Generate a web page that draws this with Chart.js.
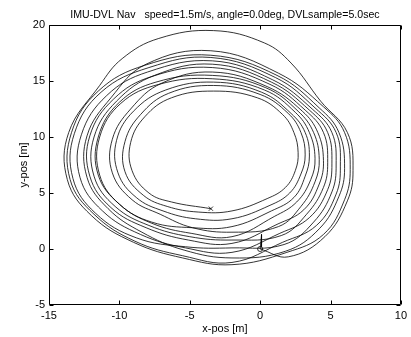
<!DOCTYPE html>
<html><head><meta charset="utf-8">
<script src="https://cdn.jsdelivr.net/npm/chart.js@4"></script>
<style>html,body{margin:0;padding:0;background:#fff;}#wrap{width:411px;height:337px;}</style>
</head><body><div id="wrap"><canvas id="c" width="411" height="337"></canvas></div>
<script>
const titleText = 'IMU-DVL Nav   speed=1.5m/s, angle=0.0deg, DVLsample=5.0sec';
const xLabel = 'x-pos [m]';
const yLabel = 'y-pos [m]';
const xTicks = [-15, -10, -5, 0, 5, 10];
const yTicks = [-5, 0, 5, 10, 15, 20];
const startPoint = [0.0, 0.0];
const startSpike = [[0.0, 0.0], [0.1, 1.3], [0.1, 0.2]];
const endPoint = [-3.5, 3.6];

const loop1 = [[2.0,-0.7],[4.6,1.1],[6.2,4.3],[6.6,7.0],[6.2,10.4],[4.3,13.2],[2.2,16.6],[0.3,18.4],[-3.3,19.5],[-7.2,18.8],[-9.8,17.0],[-11.4,14.6],[-13.6,10.4],[-13.7,6.2],[-12.0,3.0],[-9.0,0.6],[-5.5,-0.8],[-2.0,-1.4]];
const loop2 = [[1.9,-0.3],[4.5,1.3],[6.0,4.4],[6.4,7.1],[6.0,10.4],[4.5,12.7],[1.3,15.7],[-3.5,17.7],[-8.1,16.5],[-10.6,13.5],[-12.3,10.1],[-12.3,6.4],[-10.8,3.6],[-8.4,1.5],[-5.4,-0.1],[-2.0,-0.8]];
const loop3 = [[1.8,-0.2],[4.2,1.8],[5.6,4.7],[6.0,7.2],[5.6,10.4],[4.2,12.6],[1.2,15.5],[-3.5,17.3],[-8.2,16.4],[-11.5,14.1],[-13.4,10.4],[-13.5,6.2],[-11.8,3.1],[-8.9,0.7],[-5.5,-0.6],[-2.0,-1.2]];
const loop4 = [[1.6,0.6],[4.0,2.1],[5.4,4.9],[5.7,7.4],[5.4,10.4],[3.9,12.6],[1.1,15.3],[-3.5,17.1],[-7.9,16.2],[-11.3,14.0],[-13.2,10.3],[-13.3,6.3],[-11.7,3.2],[-8.8,1.0],[-5.3,0.2],[-2.0,0.1]];
const loop5 = [[1.7,0.4],[3.8,2.4],[5.1,5.1],[5.4,7.5],[5.1,10.4],[3.7,12.5],[0.9,15.1],[-3.4,16.8],[-8.0,15.8],[-10.9,13.7],[-12.7,10.2],[-12.8,6.4],[-11.2,3.4],[-8.5,1.3],[-5.3,0.1],[-2.0,-0.3]];
const loop6 = [[1.4,1.4],[3.5,2.8],[4.8,5.3],[5.1,7.6],[4.8,10.4],[3.5,12.4],[0.8,14.9],[-3.4,16.5],[-7.5,15.5],[-10.2,13.2],[-11.8,10.0],[-11.8,6.5],[-10.3,3.8],[-7.9,2.1],[-5.0,1.1],[-2.0,0.8]];
const loop7 = [[1.5,1.2],[3.3,3.1],[4.5,5.5],[4.8,7.7],[4.5,10.4],[3.2,12.4],[0.7,14.7],[-3.4,16.2],[-7.7,15.4],[-10.4,13.4],[-12.1,10.1],[-12.1,6.5],[-10.6,3.7],[-8.1,1.9],[-5.1,0.8],[-2.0,0.5]];
const loop8 = [[1.2,2.2],[3.1,3.5],[4.2,5.8],[4.5,7.9],[4.1,10.4],[3.0,12.3],[0.5,14.5],[-3.4,15.8],[-7.0,14.8],[-9.2,12.5],[-10.5,9.8],[-10.5,6.8],[-9.1,4.4],[-7.1,3.1],[-4.8,1.9],[-2.0,1.5]];
const loop9 = [[1.3,2.0],[2.9,3.8],[3.9,6.0],[4.2,8.0],[3.8,10.4],[2.7,12.3],[0.4,14.4],[-3.4,15.5],[-7.4,14.9],[-10.0,13.1],[-11.5,10.0],[-11.5,6.6],[-10.0,4.0],[-7.7,2.3],[-4.9,1.4],[-2.0,1.1]];
const loop10 = [[1.0,2.9],[2.6,4.2],[3.6,6.2],[3.9,8.1],[3.5,10.4],[2.5,12.2],[0.3,14.2],[-3.4,15.2],[-7.2,14.7],[-9.9,13.0],[-11.4,10.0],[-11.4,6.6],[-10.0,4.0],[-7.7,2.4],[-4.8,1.9],[-2.0,2.0]];
const loop11 = [[0.8,3.4],[2.4,4.6],[3.2,6.5],[3.5,8.3],[3.2,10.4],[2.2,12.1],[0.1,14.0],[-3.3,14.9],[-6.7,14.2],[-9.0,12.3],[-10.2,9.7],[-10.1,6.8],[-8.8,4.6],[-6.9,3.4],[-4.6,2.7],[-2.0,2.7]];
const loop12 = [[0.7,3.9],[2.1,5.0],[2.9,6.7],[3.2,8.4],[2.9,10.4],[2.0,12.1],[0.0,13.8],[-3.3,14.6],[-6.5,13.9],[-8.5,12.0],[-9.6,9.6],[-9.6,6.9],[-8.3,4.8],[-6.6,3.8],[-4.4,3.3],[-2.0,3.4]];
const loop13 = [[0.5,4.5],[1.8,5.5],[2.5,7.0],[2.7,8.6],[2.4,10.4],[1.6,12.0],[-0.2,13.5],[-3.3,14.1],[-6.3,13.5],[-8.2,11.8],[-9.2,9.5],[-9.1,7.0],[-7.9,5.0],[-6.3,4.2]];

const loops = [loop1, loop2, loop3, loop4, loop5, loop6, loop7, loop8, loop9, loop10, loop11, loop12, loop13];
const toXY = arr => arr.map(([x, y]) => ({x, y}));
const path = toXY([startPoint].concat(...loops, [endPoint]));

const F = "'Liberation Sans', Arial, Helvetica, sans-serif";

const framePlugin = {
  id: 'frame',
  afterDatasetsDraw(chart) {
    const {ctx, chartArea: {left, right, top, bottom}, scales: {x, y}} = chart;
    ctx.save();
    ctx.strokeStyle = '#000';
    ctx.lineWidth = 1;
    ctx.beginPath();
    const L = Math.round(left) + 0.5, R = Math.round(right) - 0.5;
    const T = Math.round(top) + 0.5, B = Math.round(bottom) - 0.5;
    ctx.rect(L, T, R - L, B - T);
    const tl = 4;
    xTicks.forEach(v => {
      const px = Math.round(x.getPixelForValue(v)) + 0.5;
      ctx.moveTo(px, B); ctx.lineTo(px, B - tl);
      ctx.moveTo(px, T); ctx.lineTo(px, T + tl);
    });
    yTicks.forEach(v => {
      const py = Math.round(y.getPixelForValue(v)) + 0.5;
      ctx.moveTo(L, py); ctx.lineTo(L + tl, py);
      ctx.moveTo(R, py); ctx.lineTo(R - tl, py);
    });
    ctx.stroke();
    ctx.fillStyle = '#000';
    ctx.font = '10.6px ' + F;
    ctx.textAlign = 'center';
    ctx.textBaseline = 'middle';
    ctx.fillText(titleText, (left + right) / 2, 15);
    ctx.restore();
  }
};

new Chart(document.getElementById('c'), {
  type: 'line',
  data: {
    datasets: [
      {data: path, borderColor: '#000', borderWidth: 0.8, pointRadius: 0, tension: 0.4, fill: false},
      {data: toXY(startSpike), borderColor: '#000', borderWidth: 0.8, pointRadius: 0, tension: 0, fill: false},
      {data: toXY([startPoint]), showLine: false, pointStyle: 'circle', pointRadius: 2.5, borderColor: '#000', backgroundColor: 'rgba(0,0,0,0)', borderWidth: 0.8},
      {data: toXY([endPoint]), showLine: false, pointStyle: 'crossRot', pointRadius: 3, borderColor: '#000', borderWidth: 0.8}
    ]
  },
  options: {
    responsive: false,
    animation: false,
    devicePixelRatio: 1,
    layout: {padding: {left: 0, right: 8, top: 25, bottom: 0}},
    plugins: {
      legend: {display: false},
      tooltip: {enabled: false},
      title: {display: false}
    },
    scales: {
      x: {
        type: 'linear', min: xTicks[0], max: xTicks[xTicks.length - 1],
        afterBuildTicks: s => { s.ticks = xTicks.map(v => ({value: v})); },
        ticks: {color: '#000', font: {family: F, size: 11}, padding: 4, maxRotation: 0, autoSkip: false},
        grid: {display: false, drawTicks: false}, border: {display: false},
        title: {display: true, text: xLabel, color: '#000', font: {family: F, size: 11}, padding: {top: 0, bottom: 1.5}},
        afterFit: s => { s.height = 32; }
      },
      y: {
        type: 'linear', min: yTicks[0], max: yTicks[yTicks.length - 1],
        afterBuildTicks: s => { s.ticks = yTicks.map(v => ({value: v})); },
        ticks: {color: '#000', font: {family: F, size: 11}, padding: 4, autoSkip: false},
        grid: {display: false, drawTicks: false}, border: {display: false},
        title: {display: true, text: yLabel, color: '#000', font: {family: F, size: 11}, padding: {top: 17, bottom: 0}},
        afterFit: s => { s.width = 49; }
      }
    }
  },
  plugins: [framePlugin]
});
</script>
</body></html>
